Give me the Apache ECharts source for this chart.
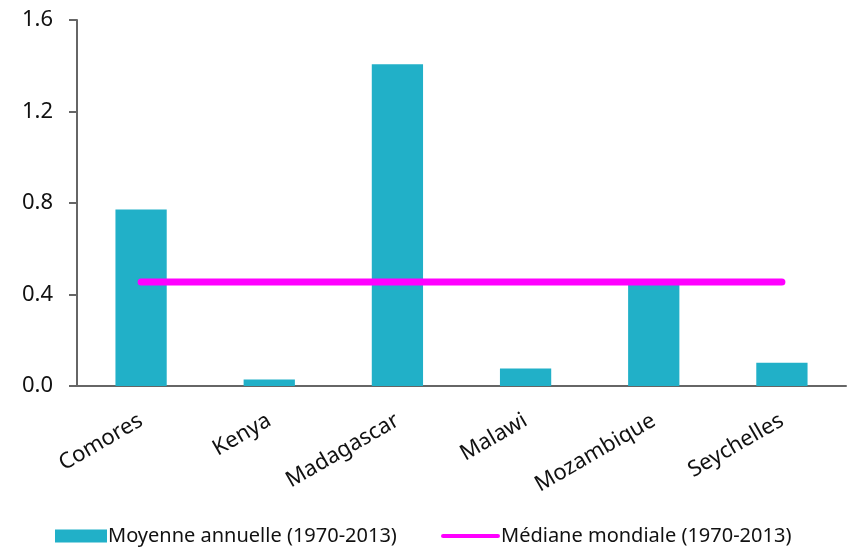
<!DOCTYPE html>
<html><head><meta charset="utf-8">
<script src="https://cdn.jsdelivr.net/npm/echarts@6/dist/echarts.min.js"></script>
<style>html,body{margin:0;padding:0;background:#fff}#c{width:848px;height:547px}</style>
</head><body><div id="c"></div>
<script>
const categories = ['Comores','Kenya','Madagascar','Malawi','Mozambique','Seychelles'];
const moyenne = [0.772, 0.028, 1.407, 0.077, 0.445, 0.102];
const mediane = [0.455, 0.455, 0.455, 0.455, 0.455, 0.455];
const yTicks = [0, 0.4, 0.8, 1.2, 1.6];
const FONT = 'Noto Sans';
const chart = echarts.init(document.getElementById('c'), null, {renderer:'canvas'});
const legendText = {fontSize:20, color:'#111', fontFamily:FONT, padding:[0,0,0,-4]};
chart.setOption({
  animation:false,
  backgroundColor:'#fff',
  textStyle:{fontFamily:FONT},
  grid:{left:77, right:2, top:20, bottom:161, containLabel:false},
  legend:[
    {top:521, left:50, itemWidth:52, itemHeight:13, textStyle:legendText,
     data:[{name:'Moyenne annuelle (1970-2013)', icon:'rect'}]},
    {top:521, left:436, itemWidth:59, itemHeight:7, textStyle:legendText,
     data:[{name:'Médiane mondiale (1970-2013)', icon:'path://M3.5,0 L96.5,0 A3.5,3.5 0 0 1 96.5,7 L3.5,7 A3.5,3.5 0 0 1 3.5,0 Z'}]}
  ],
  xAxis:{
    type:'category', data:categories,
    axisLine:{lineStyle:{color:'#666', width:2}},
    axisTick:{show:false},
    axisLabel:{rotate:30, fontSize:22, color:'#111', margin:33, fontFamily:FONT, interval:0}
  },
  yAxis:{
    type:'value', min:0, max:1.6, interval:0.4,
    splitLine:{show:false},
    axisLine:{show:true, lineStyle:{color:'#666', width:2}},
    axisTick:{show:true, length:8, lineStyle:{color:'#666', width:2}},
    axisLabel:{fontSize:22, color:'#111', margin:24, fontFamily:FONT,
      formatter:v => yTicks.includes(+v.toFixed(1)) ? v.toFixed(1) : ''}
  },
  series:[
    {name:'Moyenne annuelle (1970-2013)', type:'bar', data:moyenne, barWidth:'40%',
     itemStyle:{color:'#21b0c8'}},
    {name:'Médiane mondiale (1970-2013)', type:'line', data:mediane, symbol:'none',
     lineStyle:{color:'#ff00ff', width:7, cap:'round'}, itemStyle:{color:'#ff00ff'}, z:5}
  ]
});
</script></body></html>
